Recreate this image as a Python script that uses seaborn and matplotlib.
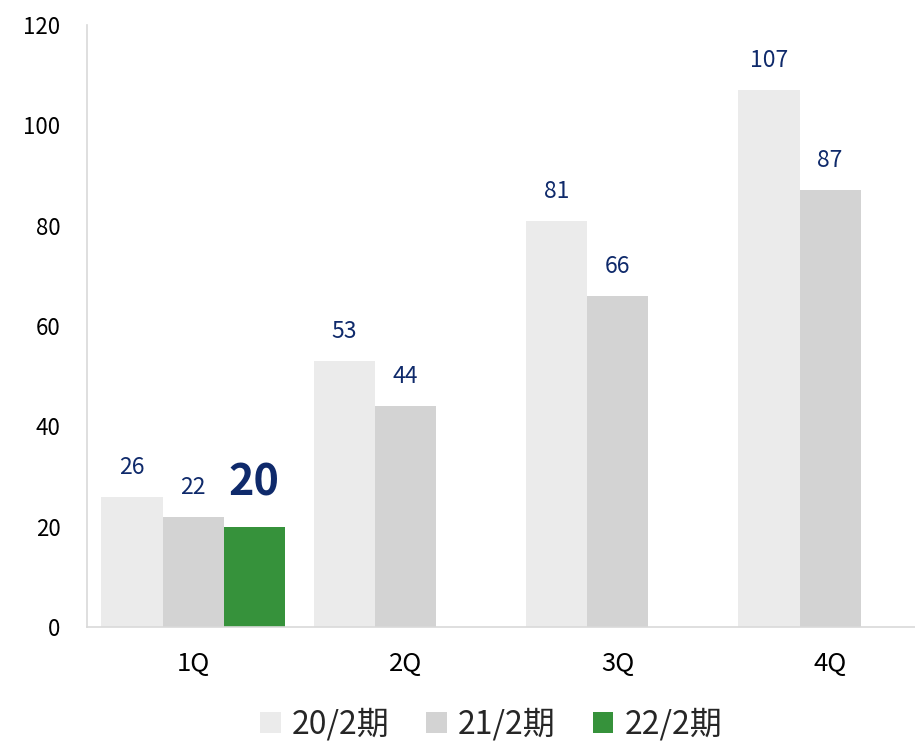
import pandas as pd
import matplotlib
matplotlib.use("Agg")
import matplotlib.pyplot as plt
import seaborn as sns

quarters = ["1Q", "2Q", "3Q", "4Q"]
periods = ["20/2期", "21/2期", "22/2期"]
v20 = [26, 53, 81, 107]
v21 = [22, 44, 66, 87]
v22 = [20, None, None, None]
colors = ["#EBEBEB", "#D3D3D3", "#36923B"]
label_color = "#0F2A6B"

rows = []
for p, vals in zip(periods, [v20, v21, v22]):
    for q, v in zip(quarters, vals):
        rows.append({"quarter": q, "period": p, "value": v})
df = pd.DataFrame(rows)

sns.set_theme(style="white")
plt.rcParams["font.family"] = ["Noto Sans CJK JP", "DejaVu Sans"]

fig = plt.figure(figsize=(9.15, 7.52), dpi=100)
ax = fig.add_axes([0.095, 0.166, 0.905, 0.801])

sns.barplot(data=df, x="quarter", y="value", hue="period", palette=colors,
            width=0.863, saturation=1, linewidth=0, ax=ax, legend=True)

# value labels
for i, cont in enumerate(ax.containers):
    for bar in cont:
        h = bar.get_height()
        if pd.isna(h) or h == 0:
            continue
        x = bar.get_x() + bar.get_width() / 2
        if i == 2:
            ax.text(x, h + 4.5, f"{h:.0f}", ha="center", va="bottom",
                    fontsize=31, fontweight="bold", color=label_color)
        else:
            ax.text(x, h + 3.6, f"{h:.0f}", ha="center", va="bottom",
                    fontsize=16.5, color=label_color)

ax.set_ylim(0, 120)
ax.set_xlim(-0.5, 3.4)
ax.set_yticks(range(0, 121, 20))
ax.set_xlabel("")
ax.set_ylabel("")
ax.tick_params(axis="y", labelsize=16, length=0, pad=19, colors="black")
ax.tick_params(axis="x", labelsize=18.5, length=0, pad=17, colors="black")
for s in ["top", "right"]:
    ax.spines[s].set_visible(False)
for s in ["left", "bottom"]:
    ax.spines[s].set_color("#D9D9D9")
    ax.spines[s].set_linewidth(1.2)

handles, labels = ax.get_legend_handles_labels()
ax.legend(handles, labels, loc="upper center", bbox_to_anchor=(0.488, -0.097),
          ncol=3, frameon=False, fontsize=23, handlelength=0.65,
          handleheight=0.65, handletextpad=0.35, columnspacing=1.15,
          borderpad=0.2)

fig.savefig("out.png", dpi=100)
